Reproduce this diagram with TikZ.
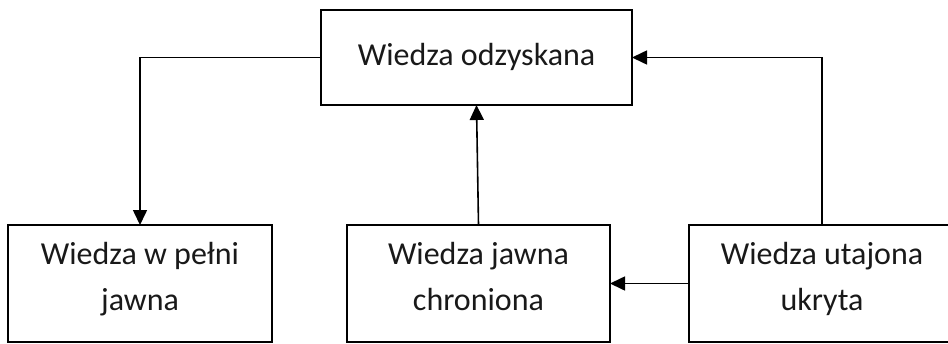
\documentclass[tikz,border=0pt]{standalone}
\usepackage{fontspec}
\setmainfont{Carlito}
\usetikzlibrary{arrows.meta,calc}

\begin{document}
\begin{tikzpicture}[x=1pt,y=-1pt,
  box/.style={draw=black,line width=1.6pt,rectangle,inner sep=0pt,outer sep=0pt},
  lbl/.style={inner sep=0pt,align=center,font=\fontsize{32}{46}\selectfont,text=black!90},
  link/.style={line width=1.6pt,-{Triangle[length=15pt,width=14pt]}}]
  \path[use as bounding box] (0,0) rectangle (948,343);
  \clip (0,0) rectangle (948,343);

  % boxes
  \node[box,minimum width=311pt,minimum height=95pt] (top) at (476.5,57.5) {};
  \node[box,minimum width=264pt,minimum height=117pt] (b1) at (140,283.5) {};
  \node[box,minimum width=263pt,minimum height=117pt] (b2) at (478.5,283.5) {};
  \node[box,minimum width=266pt,minimum height=117pt] (b3) at (822,283.5) {};

  % labels
  \node[lbl,anchor=base] (ttop) at ($(top.center)+(0,8.2)$) {Wiedza odzyskana};
  \node[lbl,anchor=north] (tb1) at ($(b1.north)+(0,17)$) {Wiedza w pełni\\jawna};
  \node[lbl,anchor=north] (tb2) at ($(b2.north)+(0,17)$) {Wiedza jawna\\chroniona};
  \node[lbl,anchor=north] (tb3) at ($(b3.north)+(0,17)$) {Wiedza utajona\\ukryta};

  % connectors
  \draw[link] (top.west) -| (b1.north);
  \draw[link] (b2.north) -- (top.south);
  \draw[link] (b3.north) |- (top.east);
  \draw[link] (b3.west) -- (b2.east);
\end{tikzpicture}
\end{document}
